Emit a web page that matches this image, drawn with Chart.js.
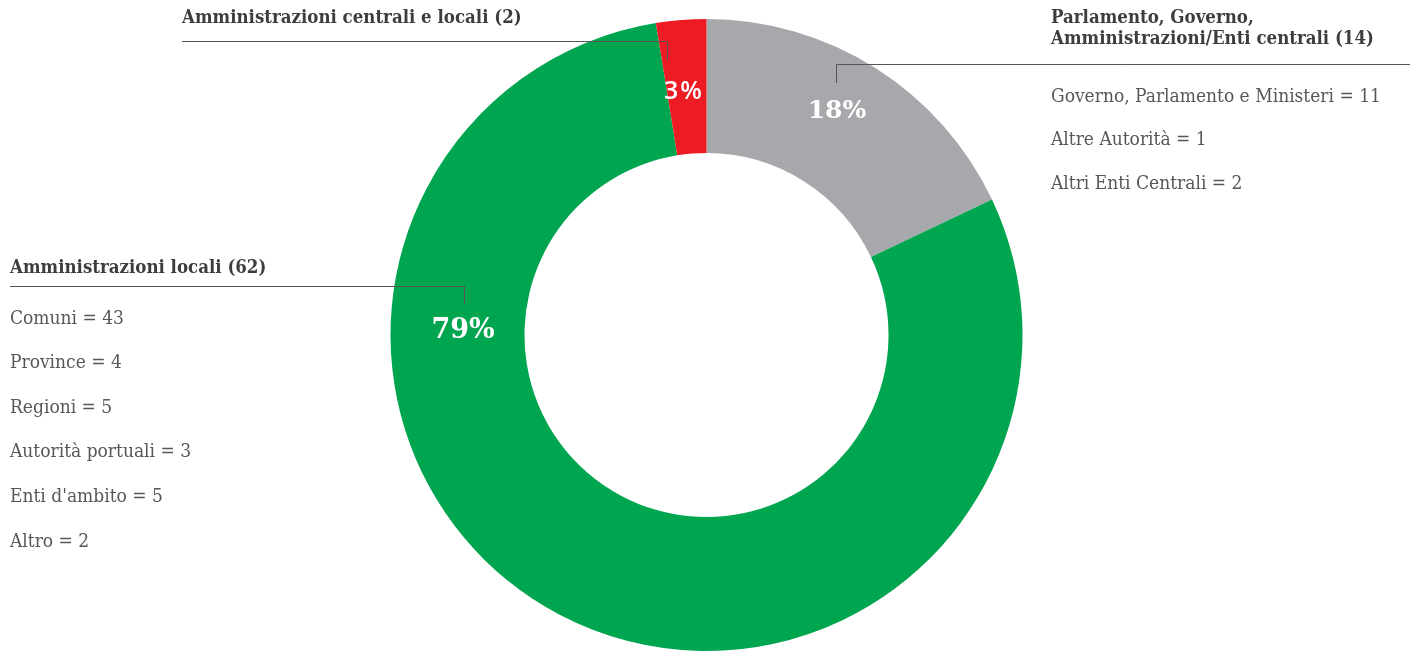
<!DOCTYPE html>
<html>
<head>
<meta charset="utf-8">
<script src="https://cdn.jsdelivr.net/npm/chart.js@4.4.1/dist/chart.umd.min.js"></script>
<style>
  html, body { margin: 0; padding: 0; background: #fff; }
  #wrap { width: 1411px; height: 651px; position: relative; }
</style>
</head>
<body>
<div id="wrap"><canvas id="chart"></canvas></div>
<script>
// slice data (clockwise from 12 o'clock)
const categories = [
  ["Parlamento, Governo,", "Amministrazioni/Enti centrali (14)"],
  ["Amministrazioni locali (62)"],
  ["Amministrazioni centrali e locali (2)"]
];
const values = [14, 62, 2];
const colors = ["#A7A8AB", "#00A54F", "#ED1C24"];

// breakdown lists shown beside each group
const centralItems = [
  "Governo, Parlamento e Ministeri = 11",
  "Altre Autorità = 1",
  "Altri Enti Centrali = 2"
];
const localItems = [
  "Comuni = 43",
  "Province = 4",
  "Regioni = 5",
  "Autorità portuali = 3",
  "Enti d'ambito = 5",
  "Altro = 2"
];
const subItems = [centralItems, localItems, []];

const total = values.reduce((a, b) => a + b, 0);

// callout layout per slice
const callouts = [
  { angle: null, angleShift: -0.036, rShift: 10, leaderDx: -1, rise: 47, drop: 28, titleGap: 20.5, lineEnd: 1410, textX: 1051, step: 43.8,
    pctFont: "bold 25px 'DejaVu Serif'", spacing: "0px" },
  { angle: Math.PI + 0.0164, angleShift: 0, rShift: -5.5, leaderDx: 1, rise: 45, drop: 27, titleGap: 14, lineEnd: 10, textX: 10, step: 44.6,
    pctFont: "bold 27px 'DejaVu Serif'", spacing: "0px" },
  { angle: null, angleShift: -0.016, rShift: -5, leaderDx: -16, rise: 51, drop: 32, titleGap: 18.5, lineEnd: 182, textX: 182, step: 0,
    pctFont: "600 25px 'Open Sans'", spacing: "2px" }
];

const calloutPlugin = {
  id: "callouts",
  afterDraw(chart) {
    const ctx = chart.ctx;
    const arcs = chart.getDatasetMeta(0).data;
    ctx.save();
    arcs.forEach((arc, i) => {
      const p = arc.getProps(["x", "y", "startAngle", "endAngle", "innerRadius", "outerRadius"], true);
      const c = callouts[i];
      const ang = (c.angle !== null ? c.angle : (p.startAngle + p.endAngle) / 2) + c.angleShift;
      const r = (p.innerRadius + p.outerRadius) / 2 + c.rShift;
      const lx = p.x + Math.cos(ang) * r;
      const ly = p.y + Math.sin(ang) * r;

      // percentage inside slice
      ctx.fillStyle = "#fff";
      ctx.font = c.pctFont;
      ctx.letterSpacing = c.spacing;
      ctx.textAlign = "center";
      ctx.textBaseline = "middle";
      ctx.fillText(Math.round(values[i] / total * 100) + "%", lx + parseFloat(c.spacing) / 2, ly);
      ctx.letterSpacing = "0px";

      // leader line
      const vx = Math.round(lx + c.leaderDx) + 0.5;
      const yLine = Math.round(ly - c.rise) + 0.5;
      ctx.strokeStyle = "#555";
      ctx.lineWidth = 1;
      ctx.beginPath();
      ctx.moveTo(vx, Math.round(ly - c.drop));
      ctx.lineTo(vx, yLine);
      ctx.lineTo(c.lineEnd, yLine);
      ctx.stroke();

      // group title above the line
      ctx.textAlign = "left";
      ctx.textBaseline = "alphabetic";
      ctx.fillStyle = "#3d3d3d";
      ctx.font = "bold 18.5px 'DejaVu Serif Condensed'";
      const title = categories[i];
      title.forEach((t, k) => {
        ctx.fillText(t, c.textX, yLine - c.titleGap - (title.length - 1 - k) * 20.6);
      });

      // breakdown list below the line
      ctx.fillStyle = "#575757";
      ctx.font = "19px 'DejaVu Serif Condensed'";
      subItems[i].forEach((t, k) => {
        ctx.fillText(t, c.textX, yLine + 37 + k * c.step);
      });
    });
    ctx.restore();
  }
};

new Chart(document.getElementById("chart"), {
  type: "doughnut",
  data: {
    labels: categories.map(c => c.join(" ")),
    datasets: [{
      data: values,
      backgroundColor: colors,
      borderWidth: 0
    }]
  },
  options: {
    responsive: true,
    maintainAspectRatio: false,
    animation: false,
    events: [],
    cutout: "57.6%",
    layout: { padding: { top: 19, left: 2, right: 0, bottom: 0 } },
    plugins: {
      legend: { display: false },
      tooltip: { enabled: false }
    }
  },
  plugins: [calloutPlugin]
});
</script>
</body>
</html>
